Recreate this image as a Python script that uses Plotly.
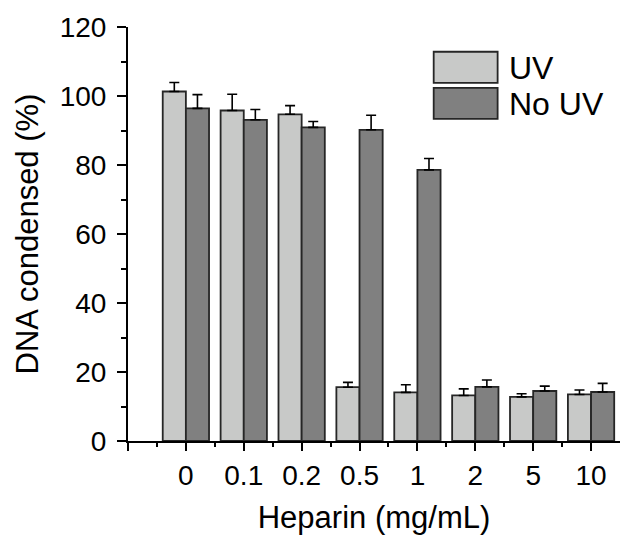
import plotly.graph_objects as go

categories = ["0", "0.1", "0.2", "0.5", "1", "2", "5", "10"]
uv_values = [101.3, 95.8, 94.7, 15.6, 14.1, 13.2, 12.8, 13.5]
uv_errors = [2.6, 4.7, 2.5, 1.4, 2.2, 1.9, 0.9, 1.3]
nouv_values = [96.4, 93.1, 90.9, 90.2, 78.6, 15.7, 14.5, 14.2]
nouv_errors = [4.0, 3.0, 1.7, 4.2, 3.3, 2.0, 1.4, 2.5]
series_names = ["UV", "No UV"]

positions = list(range(1, len(categories) + 1))
FONT = "Liberation Sans, Arial, Helvetica, sans-serif"
C_UV = "#c8c9c8"
C_NO = "#808080"
EDGE = "#262626"

fig = go.Figure()
for name, vals, errs, col, off in [
    (series_names[0], uv_values, uv_errors, C_UV, -0.4),
    (series_names[1], nouv_values, nouv_errors, C_NO, 0.0),
]:
    fig.add_trace(go.Bar(
        x=positions, y=vals, name=name, width=0.4, offset=off,
        marker=dict(color=col, line=dict(color=EDGE, width=1.8)),
        error_y=dict(type="data", array=errs, arrayminus=[0] * len(errs),
                     symmetric=False, color="black", thickness=1.6, width=5),
        showlegend=False,
    ))

# manual legend with large swatches
legend_items = [(series_names[0], C_UV, 0.0), (series_names[1], C_NO, 1.0)]
for name, col, k in legend_items:
    y_top = 52 + k * 36
    fig.add_shape(type="rect", xref="paper", yref="paper",
                  x0=(434 - 128) / 492.5, x1=(498 - 128) / 492.5,
                  y0=(440.7 - (y_top + 31)) / 413.4, y1=(440.7 - y_top) / 413.4,
                  fillcolor=col, line=dict(color=EDGE, width=1.8), layer="above")
    fig.add_annotation(xref="paper", yref="paper",
                       x=(507 - 128) / 492.5, y=(440.7 - (y_top + 16)) / 413.4,
                       text=name, showarrow=False, xanchor="left", yanchor="middle",
                       font=dict(family=FONT, size=32, color="black"))

fig.update_layout(
    width=644, height=535,
    margin=dict(l=128, r=23.5, t=27.3, b=94.3),
    paper_bgcolor="white", plot_bgcolor="white",
    font=dict(family=FONT, color="black"),
    xaxis=dict(
        range=[0, 8.5], tickmode="array", automargin=False,
        tickvals=[0] + positions, ticktext=[""] + categories,
        ticks="outside", ticklen=8, tickwidth=2, tickcolor="black",
        minor=dict(tickmode="array", tickvals=[p - 0.5 for p in positions],
                   ticks="outside", ticklen=4, tickwidth=2, tickcolor="black"),
        showline=True, linecolor="black", linewidth=2,
        showgrid=False, zeroline=False,
        tickfont=dict(family=FONT, size=28),
        title=dict(text="Heparin (mg/mL)", font=dict(family=FONT, size=31), standoff=18),
    ),
    yaxis=dict(
        range=[0, 120], dtick=20, tick0=0, automargin=False,
        ticks="outside", ticklen=9, tickwidth=2, tickcolor="black",
        minor=dict(dtick=10, ticks="outside", ticklen=5, tickwidth=2, tickcolor="black"),
        showline=True, linecolor="black", linewidth=2,
        showgrid=False, zeroline=False,
        tickfont=dict(family=FONT, size=28),
        ticklabelstandoff=5,
        title=dict(text="DNA condensed (%)", font=dict(family=FONT, size=31), standoff=12),
    ),
)

fig.write_html("out.html")
